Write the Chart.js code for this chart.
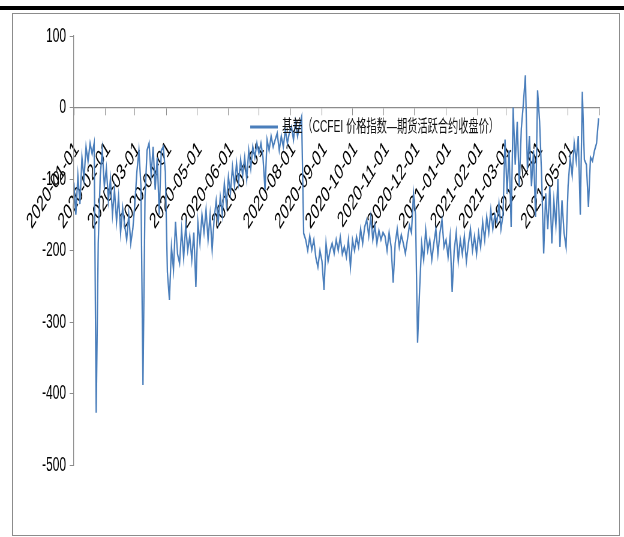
<!DOCTYPE html>
<html>
<head>
<meta charset="utf-8">
<script src="https://cdn.jsdelivr.net/npm/chart.js@4.4.1/dist/chart.umd.min.js"></script>
<style>
    html, body { margin: 0; padding: 0; background: #fff; }
    body { width: 624px; height: 537px; position: relative; overflow: hidden; }
    #topbar { position: absolute; left: 0; top: 6px; width: 624px; height: 4px; background: #000; }
    #frame { position: absolute; left: 12px; top: 13px; width: 608px; height: 523px; border: 1px solid #8c8c8c; box-sizing: border-box; }
    /* the original picture is squeezed sideways, so draw wide and squeeze */
    #wrap { position: absolute; left: 0; top: 0; width: 1040px; height: 537px; transform: scaleX(0.6); transform-origin: 0 0; }
</style>
</head>
<body>
<div id="topbar"></div>
<div id="frame"></div>
<div id="wrap"><canvas id="basis-chart"></canvas></div>
<script>
/* global Chart */
(function () {
    'use strict';

    // ---------------------------------------------------------
    // Data (one reading every 2 calendar days from startDate)
    // ---------------------------------------------------------
    var seriesLabel = '基差（CCFEI 价格指数—期货活跃合约收盘价）';
    var startDate   = '2020-01-01';
    var stepDays    = 2;
    var basis = [
        // 2020-01
        -105, -150, -95, -135, -70, -100, -55, -75, -50, -65, -50, -427, -190, -95, -60, -110,
        // 2020-02
        -85, -130, -100, -150, -115, -160, -125, -175, -140, -165, -185, -150, -190, -170,
        // 2020-03
        -135, -90, -60, -110, -388, -125, -60, -50, -95, -55, -115, -70, -150, -60, -55, -90,
        // 2020-04
        -230, -269, -195, -227, -160, -205, -218, -171, -210, -165, -200, -180, -213, -175, -251,
        // 2020-05
        -160, -190, -150, -175, -143, -185, -150, -199, -155, -130, -160, -125, -150, -106, -135,
        // 2020-06
        -97, -120, -83, -110, -78, -105, -73, -95, -70, -100, -60, -85, -55, -70, -50,
        // 2020-07
        -64, -50, -70, -115, -45, -60, -40, -55, -45, -36, -60, -40, -55, -31, -50, -35,
        // 2020-08
        -27, -45, -20, -40, -25, -13, -176, -185, -200, -180, -199, -185, -210, -223, -200,
        // 2020-09
        -215, -255, -190, -215, -200, -190, -204, -185, -200, -181, -205, -195, -209, -185, -223,
        // 2020-10
        -185, -200, -181, -195, -170, -190, -167, -157, -180, -153, -185, -165, -190, -172, -185, -175,
        // 2020-11
        -180, -200, -175, -195, -245, -190, -170, -195, -178, -190, -204, -185, -165, -175, -120,
        // 2020-12
        -150, -329, -255, -190, -213, -171, -200, -185, -213, -190, -170, -205, -175, -157, -195,
        // 2021-01
        -185, -209, -180, -258, -200, -175, -215, -185, -205, -180, -215, -190, -170, -200, -180, -205,
        // 2021-02
        -175, -195, -160, -185, -153, -175, -143, -170, -150, -160, -134, -170, -150, -45,
        // 2021-03
        -120, -60, -167, 0, -80, -20, -110, -30, 5, 45, -87, -40, -110, -60, -153,
        // 2021-04
        24, -20, -97, -204, -120, -170, -110, -190, -130, -165, -100, -195, -130, -175, -195,
        // 2021-05
        -110, -70, -95, -50, -75, -40, -150, 22, -73, -80, -139, -70, -75, -60, -50, -15
    ];

    var monthTicks = [
        '2020-01-01', '2020-02-01', '2020-03-01', '2020-04-01', '2020-05-01', '2020-06-01',
        '2020-07-01', '2020-08-01', '2020-09-01', '2020-10-01', '2020-11-01', '2020-12-01',
        '2021-01-01', '2021-02-01', '2021-03-01', '2021-04-01', '2021-05-01'
    ];
    var axisEnd = '2021-06-01';

    var yMin  = -500;
    var yMax  = 100;
    var yStep = 100;

    // ---------------------------------------------------------
    // Helpers
    // ---------------------------------------------------------
    function dayOf(iso) {
        return Math.round((Date.parse(iso) - Date.parse(startDate)) / 86400000);
    }

    var tickLabelByDay = {};
    monthTicks.forEach(function (d) { tickLabelByDay[dayOf(d)] = d; });
    var endDay = dayOf(axisEnd);

    var points = basis.map(function (v, i) {
        return { x: i * stepDays, y: v };
    });

    var AXIS_GREY = '#8c8c8c';
    var FONT_FAMILY = '"Liberation Sans", Arial, sans-serif';

    // legend sits inside the plot, like the Excel original
    var legendInPlot = {
        id: 'legendInPlot',
        afterDatasetsDraw: function (chart) {
            var ctx = chart.ctx;
            var ds  = chart.data.datasets[0];
            var y   = 127;
            ctx.save();
            ctx.strokeStyle = ds.borderColor;
            ctx.lineWidth   = 3;
            ctx.beginPath();
            ctx.moveTo(417, y);
            ctx.lineTo(463, y);
            ctx.stroke();
            ctx.fillStyle    = '#111';
            ctx.font         = '17px "Liberation Sans", "Noto Sans CJK SC", sans-serif';
            ctx.textAlign    = 'left';
            ctx.textBaseline = 'middle';
            ctx.fillText(ds.label, 470, y);
            ctx.restore();
        }
    };

    new Chart(document.getElementById('basis-chart'), {
        type: 'line',
        data: {
            datasets: [{
                label:       seriesLabel,
                data:        points,
                borderColor: '#4a7ebb',
                borderWidth: 2.3,
                pointRadius: 0,
                tension:     0,
                fill:        false
            }]
        },
        options: {
            responsive:          true,
            maintainAspectRatio: false,
            animation:           false,
            layout: { padding: { left: 20, right: 28, top: 36, bottom: 72 } },
            plugins: {
                legend:  { display: false },
                tooltip: { enabled: false }
            },
            scales: {
                x: {
                    type:     'linear',
                    position: { y: 0 },
                    min:      0,
                    max:      endDay,
                    afterBuildTicks: function (scale) {
                        var vals = monthTicks.map(dayOf).concat([endDay]);
                        scale.ticks = vals.map(function (v) { return { value: v }; });
                    },
                    grid:   { drawOnChartArea: false, drawTicks: true, tickLength: 7, color: AXIS_GREY },
                    border: { display: true, color: AXIS_GREY, width: 1.3 },
                    ticks: {
                        autoSkip:    false,
                        minRotation: 45,
                        maxRotation: 45,
                        padding:     22,
                        labelOffset: 5,
                        color:       '#000',
                        font:        { family: FONT_FAMILY, size: 22 },
                        callback: function (value) {
                            return tickLabelByDay[value] || '';
                        }
                    }
                },
                y: {
                    min: yMin,
                    max: yMax,
                    afterFit: function (scale) { scale.width = 103; },
                    grid:   { drawOnChartArea: false, drawTicks: true, tickLength: 7, color: AXIS_GREY },
                    border: { display: true, color: AXIS_GREY, width: 1.3 },
                    ticks: {
                        stepSize: yStep,
                        padding:  6,
                        color:    '#000',
                        font:     { family: FONT_FAMILY, size: 20 }
                    }
                }
            }
        },
        plugins: [legendInPlot]
    });
}());
</script>
</body>
</html>
